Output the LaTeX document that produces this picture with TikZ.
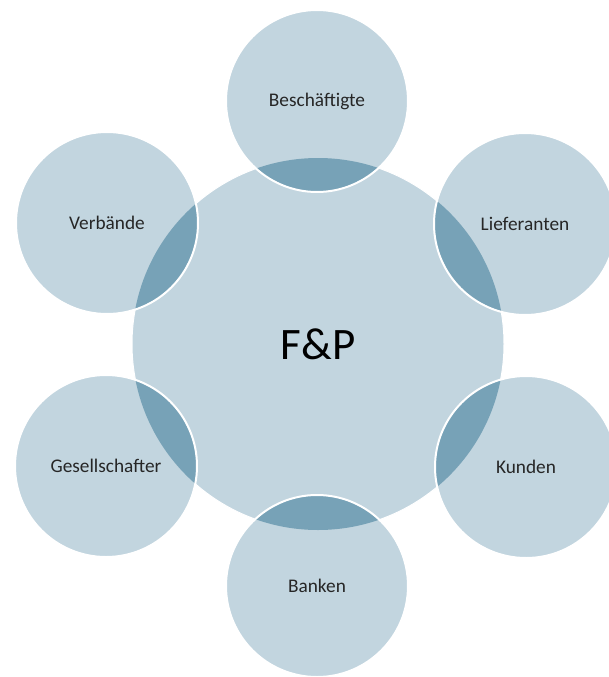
\documentclass[tikz,border=0pt]{standalone}
\usepackage{fontspec}
\setmainfont{Carlito}
\definecolor{lightc}{HTML}{C2D5DF}
\definecolor{lensc}{HTML}{77A2B7}
\definecolor{txtc}{HTML}{262626}
\tikzset{
  bubble/.style={circle, fill=lightc, minimum size=182pt, inner sep=0pt, outer sep=0pt,
    text=txtc, font=\fontsize{19.3}{23}\selectfont},
  hub/.style={circle, fill=lightc, minimum size=372pt, inner sep=0pt, outer sep=0pt,
    text=black, font=\fontsize{45}{50}\selectfont},
  rim/.style={draw=white, line width=2pt}
}
\begin{document}
\begin{tikzpicture}[x=1pt,y=-1pt]
\useasboundingbox (0,0) rectangle (609,677);
\begin{scope}
\clip (0,0) rectangle (609,677);
% hub
\node[hub] (c) at (318,344) {};
\draw[draw=white, line width=1pt] (c.center) circle[radius=186pt];
% satellites
\node[bubble] (b) at (317,101) {Beschäftigte};
\node[bubble] (l) at (525,224) {Lieferanten};
\node[bubble] (k) at (526,467) {Kunden};
\node[bubble] (n) at (317,586) {Banken};
\node[bubble] (g) at (106,466) {Gesellschafter};
\node[bubble] (v) at (107,223) {Verbände};
% lenses
\foreach \s in {b,l,k,n,g,v}{
  \begin{scope}
    \clip (c.center) circle[radius=186pt];
    \fill[lensc] (\s.center) circle[radius=91pt];
  \end{scope}
  \draw[rim] (\s.center) circle[radius=91pt];
}
% centre text
\node[text=black, font=\fontsize{45}{50}\selectfont] (ct) at (c.center) {F\&P};
\end{scope}
\end{tikzpicture}
\end{document}
